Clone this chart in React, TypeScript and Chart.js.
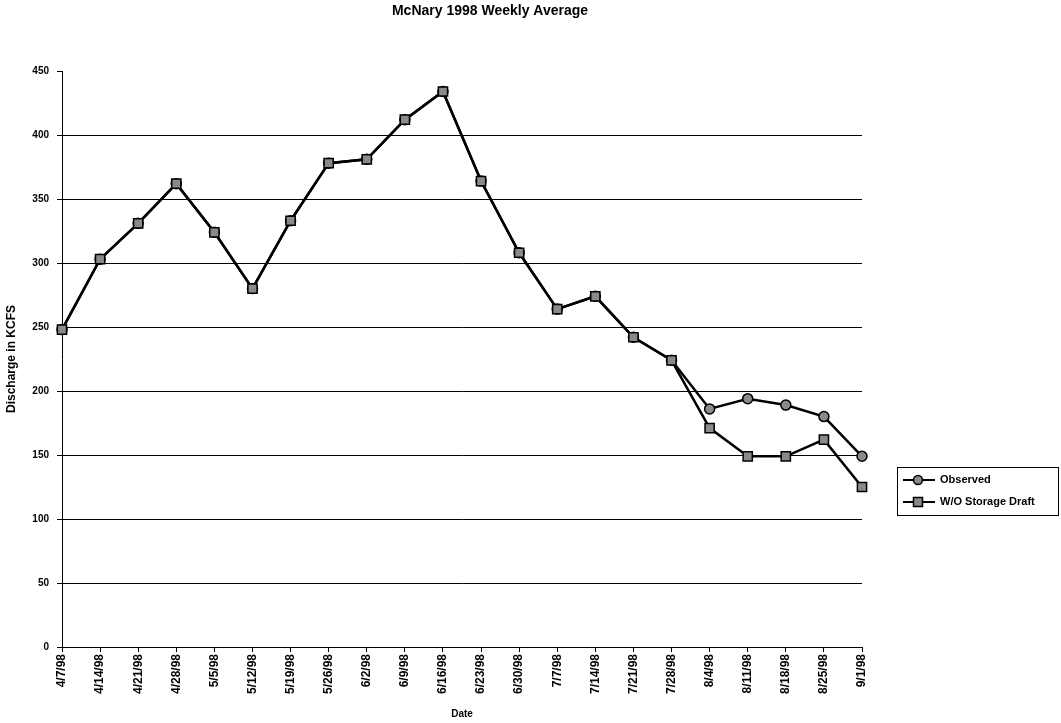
import React, { useEffect, useRef } from "react";
import { Chart, registerables } from "chart.js";

Chart.register(...registerables);

const chartTitle = "McNary 1998 Weekly Average";
const xTitle = "Date";
const yTitle = "Discharge in KCFS";

const dateLabels = [
  "4/7/98", "4/14/98", "4/21/98", "4/28/98", "5/5/98", "5/12/98", "5/19/98",
  "5/26/98", "6/2/98", "6/9/98", "6/16/98", "6/23/98", "6/30/98", "7/7/98",
  "7/14/98", "7/21/98", "7/28/98", "8/4/98", "8/11/98", "8/18/98", "8/25/98", "9/1/98",
];

const observed = [
  248, 303, 331, 362, 324, 280, 333, 378, 381, 412, 434, 364, 308, 264,
  274, 242, 224, 186, 194, 189, 180, 149,
];

const withoutStorageDraft = [
  248, 303, 331, 362, 324, 280, 333, 378, 381, 412, 434, 364, 308, 264,
  274, 242, 224, 171, 149, 149, 162, 125,
];

const seriesNames = ["Observed", "W/O Storage Draft"];
const yMin = 0;
const yMax = 450;
const yStep = 50;

const FONT = "'Liberation Sans', Arial, sans-serif";

const titleAndLegendPlugin = {
  id: "titleAndLegend",
  afterDraw(chart: any) {
    const ctx = chart.ctx;
    ctx.save();
    // chart title
    ctx.fillStyle = "#000";
    ctx.font = `bold 14px ${FONT}`;
    ctx.textAlign = "center";
    ctx.textBaseline = "middle";
    ctx.fillText(chartTitle, 490, 11);

    // legend box
    const x0 = 897, y0 = 467, w = 161, h = 48;
    ctx.strokeStyle = "#000";
    ctx.lineWidth = 1;
    ctx.strokeRect(x0 + 0.5, y0 + 0.5, w, h);
    const rows = [
      { name: seriesNames[0], style: "circle", y: y0 + 13 },
      { name: seriesNames[1], style: "rect", y: y0 + 35 },
    ];
    rows.forEach((r) => {
      ctx.strokeStyle = "#000";
      ctx.lineWidth = 2;
      ctx.beginPath();
      ctx.moveTo(x0 + 6, r.y);
      ctx.lineTo(x0 + 38, r.y);
      ctx.stroke();
      ctx.fillStyle = "#8a8a8a";
      ctx.lineWidth = 1.5;
      ctx.beginPath();
      if (r.style === "circle") {
        ctx.arc(x0 + 21, r.y, 4.5, 0, Math.PI * 2);
      } else {
        ctx.rect(x0 + 16.5, r.y - 4.5, 9, 9);
      }
      ctx.fill();
      ctx.stroke();
      ctx.fillStyle = "#000";
      ctx.font = `bold 11px ${FONT}`;
      ctx.textBaseline = "middle";
      ctx.textAlign = "left";
      ctx.fillText(r.name, x0 + 43, r.y);
    });
    ctx.restore();
  },
};

export default function App() {
  const canvasRef = useRef<HTMLCanvasElement | null>(null);

  useEffect(() => {
    document.body.style.margin = "0";
    const canvas = canvasRef.current;
    if (!canvas) return;
    const chart = new Chart(canvas, {
      type: "line",
      data: {
        labels: dateLabels,
        datasets: [
          {
            label: seriesNames[0],
            data: observed,
            borderColor: "#000",
            borderWidth: 2.5,
            backgroundColor: "#8a8a8a",
            pointStyle: "circle",
            pointRadius: 5,
            pointBorderWidth: 1.5,
            pointBorderColor: "#000",
            pointBackgroundColor: "#8a8a8a",
            tension: 0,
            order: 2,
          },
          {
            label: seriesNames[1],
            data: withoutStorageDraft,
            borderColor: "#000",
            borderWidth: 2.5,
            backgroundColor: "#8a8a8a",
            pointStyle: "rect",
            pointRadius: 6.5,
            pointBorderWidth: 1.5,
            pointBorderColor: "#000",
            pointBackgroundColor: "#8a8a8a",
            tension: 0,
            order: 1,
          },
        ],
      },
      options: {
        responsive: false,
        animation: false,
        layout: { padding: { left: 0, right: 199, top: 71, bottom: 0 } },
        plugins: {
          legend: { display: false },
          tooltip: { enabled: false },
          title: { display: false },
        },
        scales: {
          x: {
            type: "category",
            offset: false,
            afterFit: (scale: any) => {
              scale.height = 76;
            },
            border: { color: "#000", width: 1 },
            grid: {
              drawOnChartArea: false,
              drawTicks: true,
              tickLength: 5,
              tickColor: "#000",
            },
            ticks: {
              color: "#000",
              autoSkip: false,
              minRotation: 90,
              maxRotation: 90,
              padding: 2,
              font: { family: FONT, size: 12, weight: "bold" },
            },
            title: {
              display: true,
              text: xTitle,
              color: "#000",
              font: { family: FONT, size: 10, weight: "bold" },
              padding: { top: 0, bottom: 3 },
            },
          },
          y: {
            min: yMin,
            max: yMax,
            afterFit: (scale: any) => {
              scale.width = 62;
            },
            border: { color: "#000", width: 1 },
            grid: {
              color: (c: any) => (c.tick && c.tick.value === yMax ? "rgba(0,0,0,0)" : "#000"),
              tickColor: "#000",
              tickLength: 5,
              lineWidth: 1,
            },
            ticks: {
              stepSize: yStep,
              color: "#000",
              padding: 8,
              font: { family: FONT, size: 10, weight: "bold" },
            },
            title: {
              display: true,
              text: yTitle,
              color: "#000",
              font: { family: FONT, size: 12, weight: "bold" },
              padding: { top: 4, bottom: 0 },
            },
          },
        },
      },
      plugins: [titleAndLegendPlugin],
    });
    return () => chart.destroy();
  }, []);

  return (
    <div style={{ width: 1061, height: 723, background: "#fff" }}>
      <canvas ref={canvasRef} width={1061} height={723} style={{ display: "block" }} />
    </div>
  );
}
